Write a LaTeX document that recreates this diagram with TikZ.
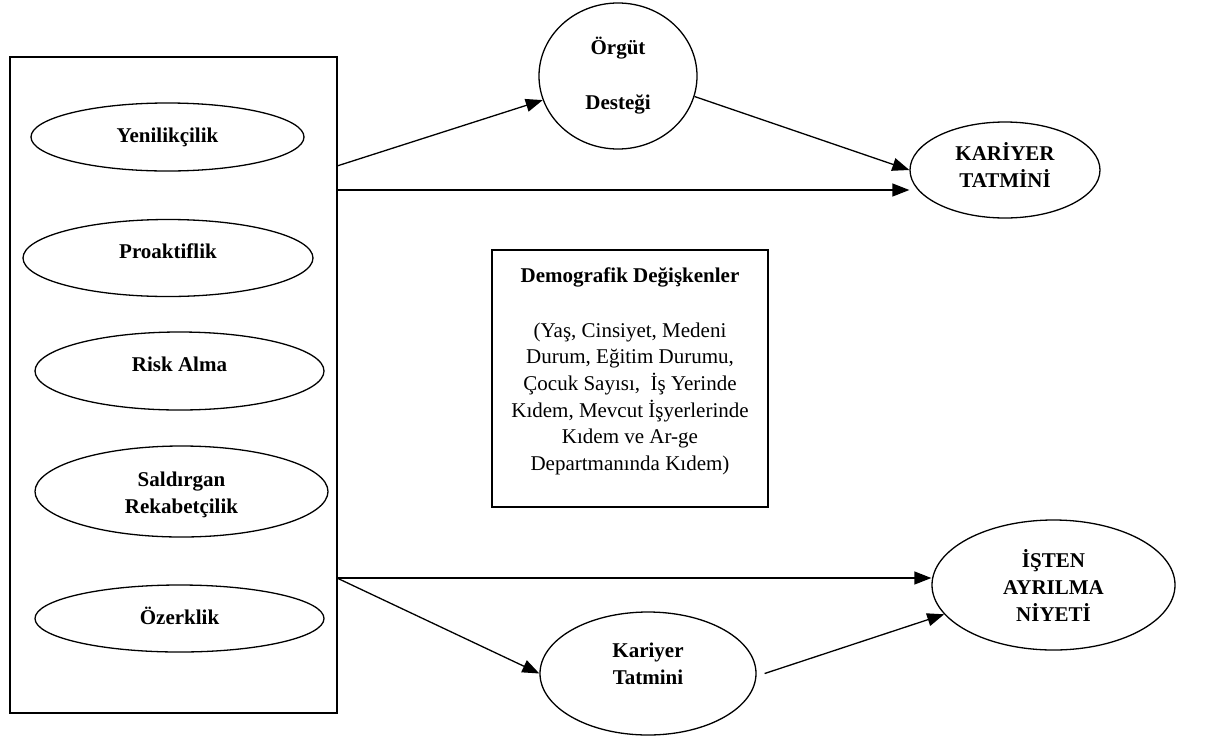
\documentclass[tikz,border=0pt]{standalone}
\usepackage{fontspec}
\setmainfont{Liberation Serif}
\usetikzlibrary{shapes.geometric,arrows.meta}
\newcommand{\dn}[1]{\rule[-#1pt]{0pt}{0pt}}
\begin{document}
\begin{tikzpicture}[x=1pt,y=-1pt,
  lw/.style={line width=1.3pt},
  oval/.style={draw, lw, ellipse, inner sep=0pt, align=center,
    font=\bfseries\fontsize{21}{27}\selectfont},
  conn/.style={lw, -{Triangle[length=17pt,width=13pt]}},
]
\useasboundingbox (0,0) rectangle (1212,737);

% left group
\node[draw, lw, minimum width=327, minimum height=656, inner sep=0pt] (dims) at (173.5,385) {};
\node[oval, minimum width=273, minimum height=68] (yen) at (167.5,137) {Yenilikçilik};
\node[oval, minimum width=290, minimum height=77] (pro) at (168,258) {Proaktiflik\dn{14}};
\node[oval, minimum width=289, minimum height=78] (risk) at (179.5,371) {Risk Alma\dn{14}};
\node[oval, minimum width=293, minimum height=91] (sal) at (181.5,491.5) {\rule{0pt}{22pt}Saldırgan\\Rekabetçilik};
\node[oval, minimum width=289, minimum height=67] (oz) at (179.5,618.5) {Özerklik\dn{6}};

% right nodes
\node[oval, minimum width=158, minimum height=146] (org) at (618,76) {Örgüt\\[28pt]Desteği};
\node[oval, minimum width=190, minimum height=96] (kar) at (1005,170) {KARİYER\\TATMİNİ\dn{10}};
\node[oval, minimum width=243, minimum height=130] (isten) at (1053.5,585) {İŞTEN\\AYRILMA\\NİYETİ};
\node[oval, minimum width=216, minimum height=123] (kt) at (648,673.5) {Kariyer\\Tatmini\dn{19}};

% demographic box
\node[draw, lw, minimum width=276, minimum height=257, inner sep=0pt, align=center,
  font=\fontsize{21}{26.7}\selectfont] (demo) at (630,378.5)
  {\textbf{Demografik Değişkenler}\\[28.3pt]
   (Yaş, Cinsiyet, Medeni\\
   Durum, Eğitim Durumu,\\
   Çocuk Sayısı,~ İş Yerinde\\
   Kıdem, Mevcut İşyerlerinde\\
   Kıdem ve Ar-ge\\
   Departmanında Kıdem)\dn{19}};

% connector start points on the group box
\coordinate (a1) at (337,166);
\coordinate (a2) at (337,190);
\coordinate (b1) at (337,578);

\draw[conn] (a1) -- (org);
\draw[conn] (a2) -- (a2 -| kar.west);
\draw[conn] (org.-15) -- (kar.west);
\draw[conn] (b1) -- (b1 -| isten.west);
\draw[conn] (b1) -- (kt.west);
\draw[conn] ([xshift=8pt]kt.east) -- (isten.195);
\end{tikzpicture}
\end{document}
